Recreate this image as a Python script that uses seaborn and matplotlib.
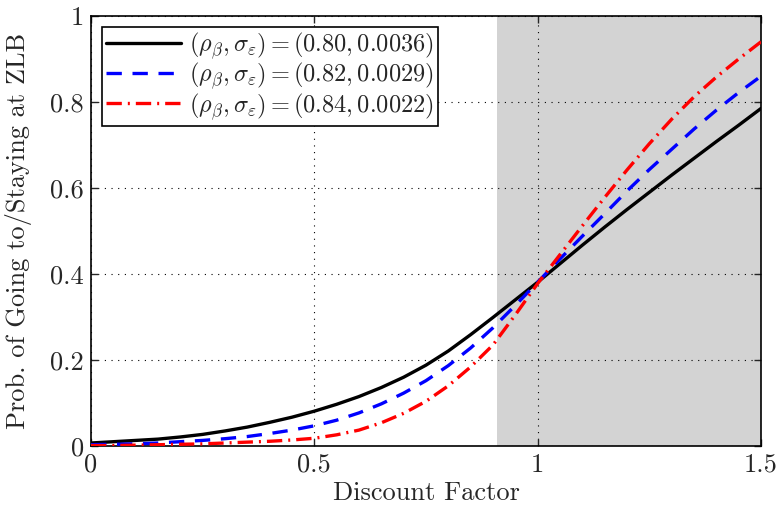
import numpy as np
import pandas as pd
import seaborn as sns
import matplotlib
matplotlib.use("Agg")
import matplotlib.pyplot as plt

discount = [0.0, 0.05, 0.1, 0.15, 0.2, 0.25, 0.3, 0.35, 0.4, 0.45, 0.5, 0.55, 0.6, 0.65, 0.7, 0.75,
            0.8, 0.85, 0.9, 0.95, 1.0, 1.05, 1.1, 1.15, 1.2, 1.25, 1.3, 1.35, 1.4, 1.45, 1.5]
prob_080 = [0.007, 0.010, 0.013, 0.016, 0.021, 0.027, 0.035, 0.044, 0.055, 0.067, 0.081, 0.097,
            0.115, 0.136, 0.160, 0.188, 0.221, 0.259, 0.299, 0.340, 0.381, 0.424, 0.467, 0.509,
            0.550, 0.590, 0.630, 0.669, 0.708, 0.746, 0.785]
prob_082 = [0.003, 0.004, 0.005, 0.007, 0.010, 0.013, 0.017, 0.022, 0.029, 0.037, 0.047, 0.060,
            0.077, 0.098, 0.123, 0.152, 0.187, 0.228, 0.275, 0.327, 0.381, 0.435, 0.488, 0.540,
            0.593, 0.643, 0.690, 0.737, 0.781, 0.822, 0.860]
prob_084 = [0.001, 0.001, 0.002, 0.003, 0.004, 0.005, 0.007, 0.009, 0.011, 0.014, 0.018, 0.026,
            0.037, 0.054, 0.076, 0.104, 0.140, 0.184, 0.235, 0.305, 0.378, 0.445, 0.512, 0.578,
            0.642, 0.703, 0.760, 0.812, 0.858, 0.900, 0.940]
labels = [r'$(\rho_\beta, \sigma_\varepsilon) = (0.80, 0.0036)$',
          r'$(\rho_\beta, \sigma_\varepsilon) = (0.82, 0.0029)$',
          r'$(\rho_\beta, \sigma_\varepsilon) = (0.84, 0.0022)$']
shade_start = 0.91
xticks = [0, 0.5, 1, 1.5]
xticklabels = ['0', '0.5', '1', '1.5']
yticks = [0, 0.2, 0.4, 0.6, 0.8, 1]
yticklabels = ['0', '0.2', '0.4', '0.6', '0.8', '1']

sns.set_style("ticks")
plt.rcParams['font.family'] = ['cmr10', 'DejaVu Serif']
plt.rcParams['mathtext.fontset'] = 'cm'
plt.rcParams['axes.formatter.use_mathtext'] = True
plt.rcParams['xtick.direction'] = 'in'
plt.rcParams['ytick.direction'] = 'in'

fig = plt.figure(figsize=(7.79, 5.12), dpi=100)
ax = fig.add_axes([0.1168, 0.1289, 0.9769 - 0.1168, 0.96875 - 0.1289])

ax.axvspan(shade_start, 1.5, color='#d3d3d3', lw=0, zorder=0)

styles = [dict(color='black', linestyle='-'),
          dict(color='#0000ff', linestyle=(0, (4.6, 3.2))),
          dict(color='#ff0000', linestyle=(0, (4.6, 1.8, 0.6, 1.8)))]
series = [prob_080, prob_082, prob_084]
for vals, lab, st in zip(series, labels, styles):
    df = pd.DataFrame({'x': discount, 'y': vals})
    sns.lineplot(data=df, x='x', y='y', ax=ax, label=lab, color=st['color'],
                 linestyle=st['linestyle'], linewidth=2.4, zorder=3)

ax.set_xlim(0, 1.5)
ax.set_ylim(0, 1)
ax.set_xticks(xticks)
ax.set_xticklabels(xticklabels, fontsize=19)
ax.set_yticks(yticks)
ax.set_yticklabels(yticklabels, fontsize=19)
ax.tick_params(axis='both', which='both', top=True, right=True, length=5, width=1, pad=5)
ax.grid(True, color='black', linestyle=(0, (1, 5)), linewidth=0.8)
for s in ax.spines.values():
    s.set_linewidth(1.2)
    s.set_color('black')
ax.set_xlabel('Discount Factor', fontsize=19, labelpad=3)
ax.set_ylabel('Prob. of Going to/Staying at ZLB', fontsize=19, labelpad=13)

leg = ax.legend(loc='upper left', fontsize=17.5, frameon=True, fancybox=False,
                edgecolor='black', framealpha=1, handlelength=3.1,
                borderaxespad=0.45, labelspacing=0.0, borderpad=0.15, handletextpad=0.35)
leg.get_frame().set_linewidth(1.2)

fig.savefig('out.png', dpi=100)
